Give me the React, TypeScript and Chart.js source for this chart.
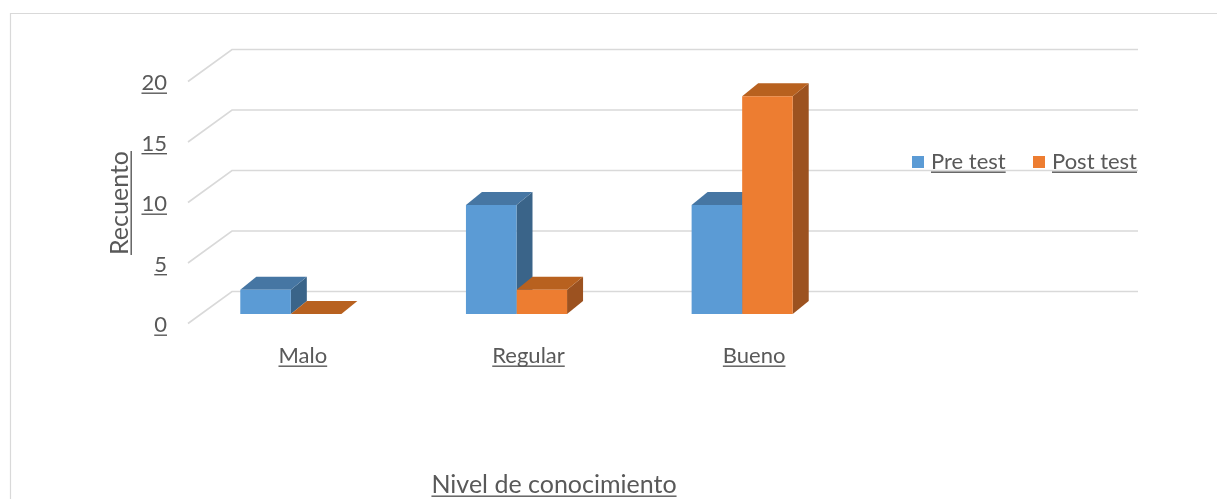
import React, { useEffect, useRef } from "react";
import { Chart, registerables } from "chart.js";

Chart.register(...registerables);

const categories = ["Malo", "Regular", "Bueno"];
const seriesNames = ["Pre test", "Post test"];
const preTest = [2, 9, 9];
const postTest = [0, 2, 18];
const yTicks = [0, 5, 10, 15, 20];
const yTitle = "Recuento";
const xTitle = "Nivel de conocimiento";

const FRONT_COLORS = ["#5B9BD5", "#ED7D31"];
const TOP_COLORS = ["#4676A3", "#B8611F"];
const SIDE_COLORS = ["#3A6489", "#9C5220"];
const TEXT = "#595959";
const GRID = "#D9D9D9";
const FONT = "Lato, 'Open Sans', sans-serif";
const FS = 22;
const FS_TITLE = 25;

const DX = 16;
const DY = -13;

function underlinedText(ctx: CanvasRenderingContext2D, text: string, x: number, y: number, align: CanvasTextAlign) {
  ctx.textAlign = align;
  ctx.textBaseline = "alphabetic";
  ctx.fillText(text, x, y);
  const w = ctx.measureText(text).width;
  let x0 = x;
  if (align === "center") x0 = x - w / 2;
  else if (align === "right") x0 = x - w;
  ctx.fillRect(x0, y + 2.5, w, 1.4);
}

const excel3d = {
  id: "excel3d",
  beforeDatasetsDraw(chart: any) {
    const { ctx, chartArea, scales } = chart;
    const y = scales.y;
    ctx.save();
    ctx.strokeStyle = GRID;
    ctx.lineWidth = 1.6;
    for (const t of y.ticks) {
      const py = y.getPixelForValue(t.value);
      ctx.beginPath();
      ctx.moveTo(chartArea.left + 10, py + 9.5);
      ctx.lineTo(chartArea.left + 54, py - 22.5);
      ctx.lineTo(chartArea.left + 960, py - 22.5);
      ctx.stroke();
    }
    chart.data.datasets.forEach((ds: any, di: number) => {
      const meta = chart.getDatasetMeta(di);
      meta.data.forEach((bar: any) => {
        const { x, y: top, base, width } = bar.getProps(["x", "y", "base", "width"], true);
        const l = x - width / 2;
        const r = x + width / 2;
        ctx.fillStyle = SIDE_COLORS[di];
        ctx.beginPath();
        ctx.moveTo(r, top);
        ctx.lineTo(r + DX, top + DY);
        ctx.lineTo(r + DX, base + DY);
        ctx.lineTo(r, base);
        ctx.closePath();
        ctx.fill();
        ctx.fillStyle = TOP_COLORS[di];
        ctx.beginPath();
        ctx.moveTo(l, top);
        ctx.lineTo(r, top);
        ctx.lineTo(r + DX, top + DY);
        ctx.lineTo(l + DX, top + DY);
        ctx.closePath();
        ctx.fill();
      });
    });
    ctx.restore();
  },
  afterDraw(chart: any) {
    const { ctx, chartArea, scales } = chart;
    const x = scales.x;
    const y = scales.y;
    ctx.save();
    ctx.strokeStyle = GRID;
    ctx.lineWidth = 1.2;
    ctx.beginPath();
    ctx.moveTo(10.5, 499);
    ctx.lineTo(10.5, 13.5);
    ctx.lineTo(1217, 13.5);
    ctx.stroke();

    ctx.fillStyle = TEXT;
    ctx.font = `${FS}px ${FONT}`;
    for (const t of y.ticks) {
      const py = y.getPixelForValue(t.value) + 9.5;
      underlinedText(ctx, String(t.value), chartArea.left - 11, py + 8.5, "right");
    }
    categories.forEach((c, i) => {
      const px = x.getPixelForValue(i) + 12;
      underlinedText(ctx, c, px, 363, "center");
    });
    const lx = [912, 1033];
    chart.data.datasets.forEach((ds: any, di: number) => {
      ctx.fillStyle = ds.backgroundColor;
      ctx.fillRect(lx[di], 156, 12, 12);
      ctx.fillStyle = TEXT;
      underlinedText(ctx, ds.label, lx[di] + 19, 169, "left");
    });

    ctx.font = `${FS_TITLE}px ${FONT}`;
    underlinedText(ctx, xTitle, 554, 493, "center");
    ctx.save();
    ctx.translate(128, 203);
    ctx.rotate(-Math.PI / 2);
    underlinedText(ctx, yTitle, 0, 0, "center");
    ctx.restore();
    ctx.restore();
  },
};

export default function App() {
  const ref = useRef<HTMLCanvasElement>(null);
  useEffect(() => {
    const chart = new Chart(ref.current!, {
      type: "bar",
      data: {
        labels: categories,
        datasets: [
          { label: seriesNames[0], data: preTest, backgroundColor: FRONT_COLORS[0], borderWidth: 0 },
          { label: seriesNames[1], data: postTest, backgroundColor: FRONT_COLORS[1], borderWidth: 0 },
        ],
      },
      options: {
        animation: false,
        responsive: false,
        devicePixelRatio: 1,
        layout: { padding: { left: 178, right: 362, top: 72, bottom: 185 } },
        datasets: { bar: { barPercentage: 1, categoryPercentage: 0.448 } },
        plugins: { legend: { display: false }, tooltip: { enabled: false } },
        scales: {
          x: {
            type: "category",
            offset: true,
            grid: { display: false, drawTicks: false },
            border: { display: false },
            ticks: { display: false },
            afterFit: (s: any) => { s.height = 0; },
          },
          y: {
            min: 0,
            max: 20,
            grid: { display: false, drawTicks: false },
            border: { display: false },
            ticks: { display: false, stepSize: 5 },
            afterBuildTicks: (s: any) => { s.ticks = yTicks.map((v) => ({ value: v })); },
            afterFit: (s: any) => { s.width = 0; },
          },
        },
      },
      plugins: [excel3d],
    });
    return () => chart.destroy();
  }, []);
  return (
    <div style={{ position: "absolute", left: 0, top: 0, width: 1217, height: 499 }}>
      <canvas ref={ref} width={1217} height={499} />
    </div>
  );
}
